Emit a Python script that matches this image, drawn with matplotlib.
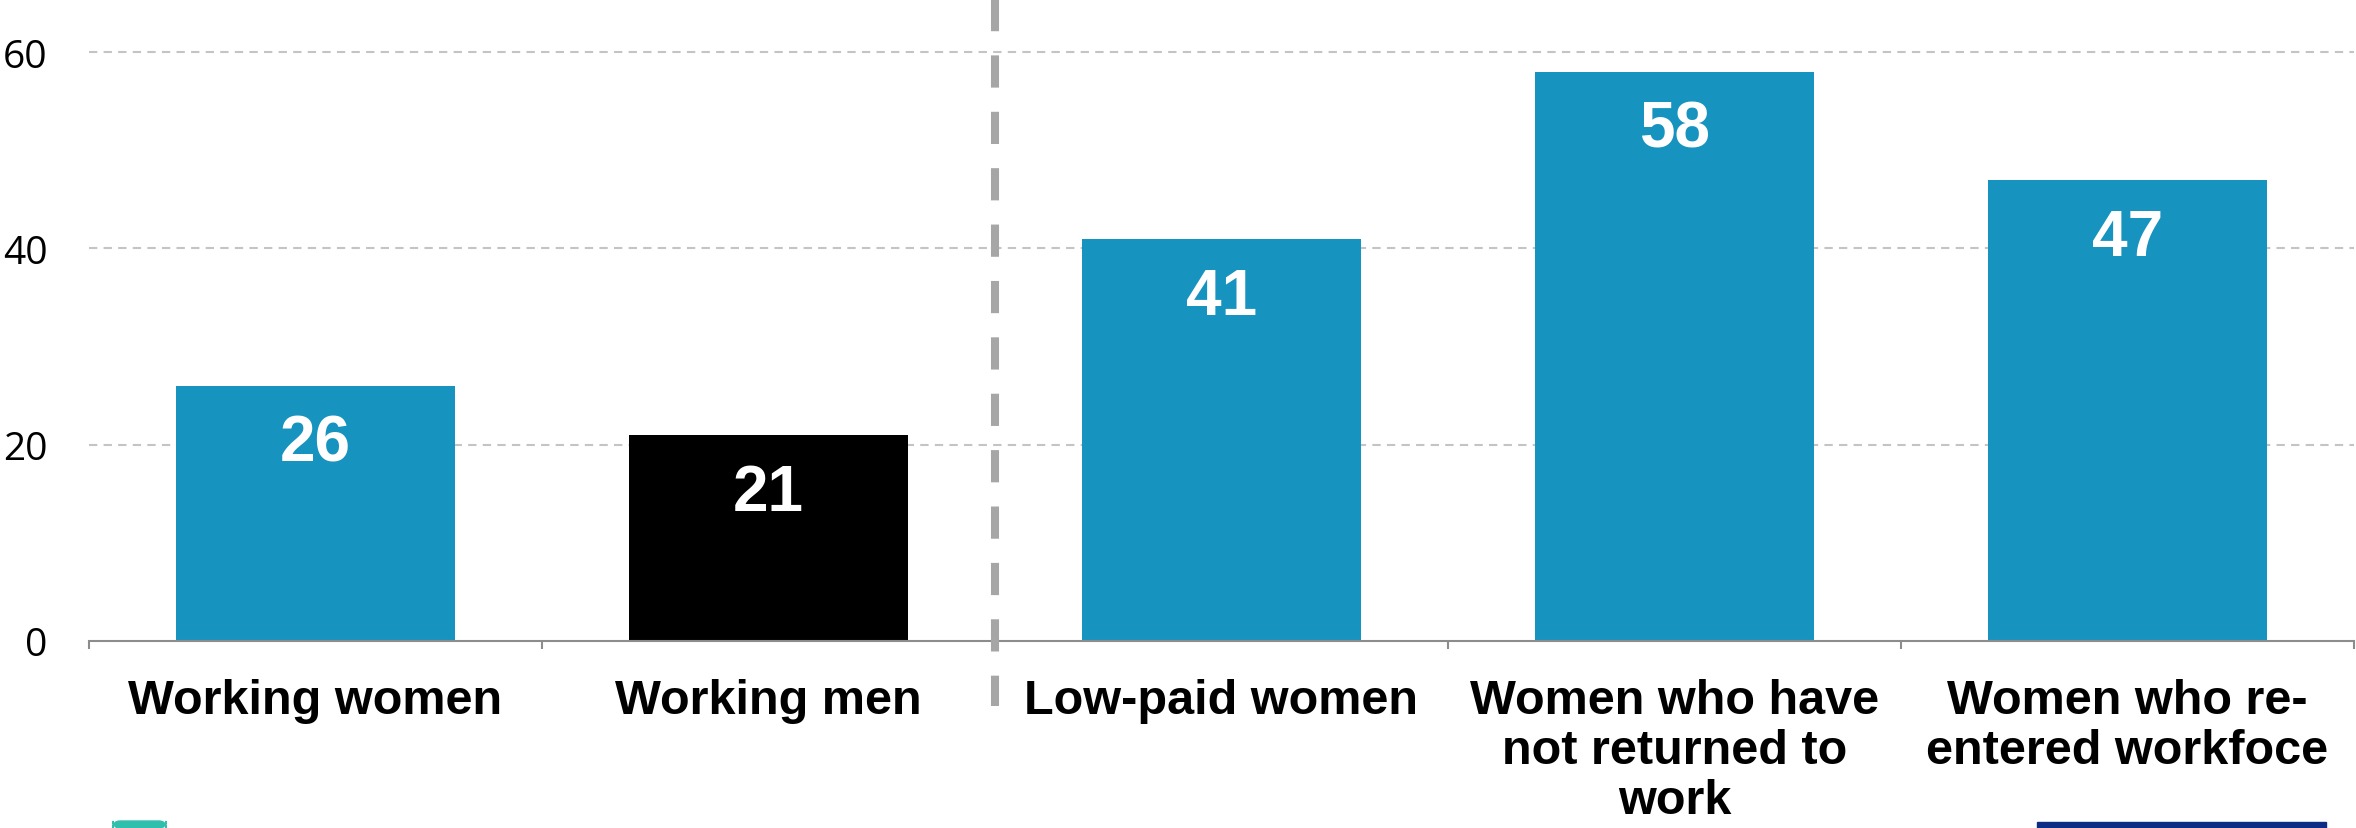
import matplotlib
matplotlib.use("Agg")
import matplotlib.pyplot as plt
import matplotlib.transforms as mtransforms
from matplotlib.patches import FancyBboxPatch, Rectangle

categories = ["Working women", "Working men", "Low-paid women",
              "Women who have\nnot returned to\nwork", "Women who re-\nentered workfoce"]
values = [26, 21, 41, 58, 47]
bar_colors = ["#1793bf", "#000000", "#1793bf", "#1793bf", "#1793bf"]
y_ticks = [0, 20, 40, 60]

fig = plt.figure(figsize=(23.56, 8.29), dpi=100)
ax = fig.add_axes([89 / 2356, 1 - 642 / 829, (2354 - 89) / 2356, 642 / 829])

x = list(range(len(categories)))
ax.bar(x, values, width=0.616, color=bar_colors, zorder=2)

ax.set_xlim(-0.5, len(categories) - 0.5)
ax.set_ylim(0, 65.4)

# light dashed gridlines behind the bars
for v in y_ticks[1:]:
    ax.axhline(v, color="#c4c4c4", lw=1.5, dashes=(4, 3), zorder=1)

# value labels inside the top of each bar
for xi, v in zip(x, values):
    ax.annotate(str(v), (xi, v), xytext=(0, -28), textcoords="offset pixels",
                ha="center", va="top", color="white", fontsize=46,
                fontweight="bold", family="Liberation Sans", zorder=3)

ax.set_xticks(x)
ax.set_xticklabels(categories, fontsize=35, fontweight="bold",
                   family="Liberation Sans", linespacing=1.13)
ax.set_xticks([i - 0.5 for i in range(len(categories) + 1)], minor=True)
ax.tick_params(axis="x", which="major", length=0, pad=27)
ax.tick_params(axis="x", which="minor", length=6, width=1.5, color="#8c8c8c")

ax.set_yticks(y_ticks)
ax.set_yticklabels([str(t) for t in y_ticks], fontsize=28, family="Open Sans")
ax.tick_params(axis="y", length=0, pad=30)

for side in ["top", "right", "left"]:
    ax.spines[side].set_visible(False)
ax.spines["bottom"].set_color("#8c8c8c")
ax.spines["bottom"].set_linewidth(1.5)

# separator between the overall groups and the subgroups
trans = mtransforms.blended_transform_factory(ax.transData, ax.transAxes)
ax.plot([1.5, 1.5], [1.0, -0.101], transform=trans, color="#a6a6a6",
        lw=5.8, dashes=(4, 3), clip_on=False, zorder=4)

# logo strips along the bottom edge
fig.patches.append(FancyBboxPatch((113 / 2356, 0), 53 / 2356, 7 / 829,
                                  boxstyle="round,pad=0,rounding_size=0.003",
                                  transform=fig.transFigure, color="#30bfad",
                                  mutation_aspect=2356 / 829))
fig.patches.append(Rectangle((2037 / 2356, 0), 289 / 2356, 6 / 829,
                             transform=fig.transFigure, color="#0c2d83"))

fig.savefig("out.png", dpi=100)
